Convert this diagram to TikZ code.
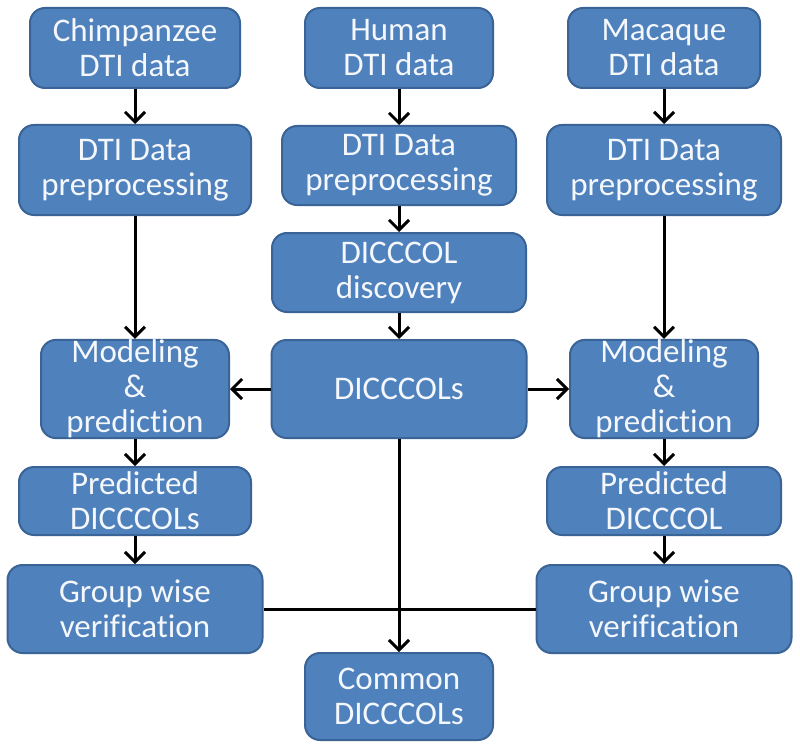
\documentclass[tikz,border=0pt]{standalone}
\usepackage{fontspec}
\setmainfont[Ligatures=CommonOff]{Carlito}
\usetikzlibrary{arrows.meta}
\definecolor{boxfill}{HTML}{4F81BD}
\definecolor{boxedge}{HTML}{3A6396}
\definecolor{boxtext}{HTML}{F4F7FB}
\tikzset{
  box/.style={draw=boxedge, line width=2pt, fill=boxfill, rounded corners=15pt,
    text=boxtext, align=center, inner sep=0pt,
    font=\fontsize{33}{35}\selectfont},
  conn/.style={line width=3pt, black},
  arr/.style={conn, -{Straight Barb[length=10pt,width=20pt,line width=3pt]}}
}
\begin{document}
\begin{tikzpicture}[x=1pt,y=-1pt]
\useasboundingbox[fill=white] (0,0) rectangle (800,749);
\node[box, minimum width=210pt, minimum height=80pt] (chimp) at (135,48) {Chimpanzee\\DTI data};
\node[box, minimum width=188pt, minimum height=80pt] (human) at (399,48) {Human\\DTI data};
\node[box, minimum width=192pt, minimum height=80pt] (mac) at (664,48) {Macaque\\DTI data};
\node[box, minimum width=232pt, minimum height=90pt] (prepL) at (135,170) {DTI Data\\preprocessing};
\node[box, minimum width=234pt, minimum height=79pt] (prepM) at (399,165.5) {DTI Data\\preprocessing};
\node[box, minimum width=234pt, minimum height=90pt] (prepR) at (664,170) {DTI Data\\preprocessing};
\node[box, minimum width=254pt, minimum height=79pt] (disc) at (399,272.5) {DICCCOL\\discovery};
\node[box, minimum width=255pt, minimum height=98pt] (dic) at (399,389) {DICCCOLs};
\node[box, minimum width=188pt, minimum height=98pt] (modL) at (135,389) {Modeling\\\&\\prediction};
\node[box, minimum width=188pt, minimum height=98pt] (modR) at (664,389) {Modeling\\\&\\prediction};
\node[box, minimum width=232pt, minimum height=68pt] (predL) at (135,501) {Predicted\\DICCCOLs};
\node[box, minimum width=234pt, minimum height=68pt] (predR) at (664,501) {Predicted\\DICCCOL};
\node[box, minimum width=255pt, minimum height=88pt] (grpL) at (135,609) {Group wise\\verification};
\node[box, minimum width=255pt, minimum height=88pt] (grpR) at (664,609) {Group wise\\verification};
\node[box, minimum width=188pt, minimum height=87pt] (common) at (399,696.5) {Common\\DICCCOLs};

\draw[arr] (chimp) -- (prepL);
\draw[arr] (human) -- (prepM);
\draw[arr] (mac) -- (prepR);
\draw[arr] (prepL) -- (modL);
\draw[arr] (prepM) -- (disc);
\draw[arr] (prepR) -- (modR);
\draw[arr] (disc) -- (dic);
\draw[arr] (dic) -- (modL);
\draw[arr] (dic) -- (modR);
\draw[arr] (modL) -- (predL);
\draw[arr] (modR) -- (predR);
\draw[arr] (predL) -- (grpL);
\draw[arr] (predR) -- (grpR);
\draw[conn] (grpL) -- (grpR);
\draw[arr] (dic) -- (common);
\end{tikzpicture}
\end{document}
